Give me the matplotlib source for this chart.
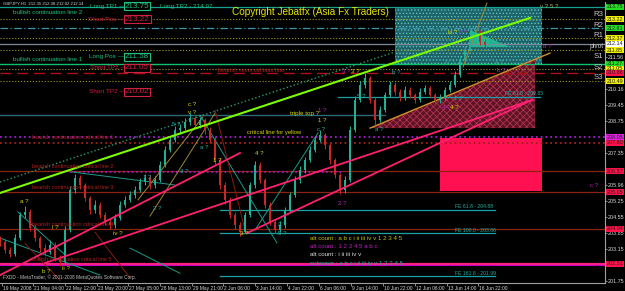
import matplotlib
matplotlib.use("Agg")
import matplotlib.pyplot as plt
from matplotlib.patches import Polygon, Rectangle

plt.rcParams['font.family'] = ['Liberation Sans', 'DejaVu Sans']
plt.rcParams['hatch.linewidth'] = 0.6

# ---------------- data (bar index ~ 1 px per H1 bar, price) ----------------
bar_x = [0, 5, 10, 15, 20, 25, 30, 35, 40, 45, 50, 55, 60, 65, 70, 75, 80, 85, 90, 95,
         100, 105, 110, 115, 120, 125, 130, 135, 140, 145, 150, 155, 160, 165, 170, 175, 180, 185, 190, 195,
         200, 205, 210, 215, 220, 225, 230, 235, 240, 245, 250, 255, 260, 265, 270, 275, 280, 285, 290, 295,
         300, 305, 310, 315, 320, 325, 330, 335, 340, 345, 350, 355, 360, 365, 370, 375, 380, 385, 390, 395,
         400, 405, 410, 415, 420, 425, 430, 435, 440, 445, 450, 455, 460, 465, 470, 475, 480, 485, 490]
closes = [203.47, 203.12, 202.94, 203.64, 204.65, 204.78, 204.08, 203.64, 203.21, 203.03,
          203.34, 202.77, 202.59, 203.99, 205.74, 206.27, 205.96, 205.39, 204.87, 205.09,
          204.65, 204.34, 204.21, 204.52, 205.09, 205.31, 205.52, 205.74, 206.09, 206.27,
          205.96, 206.18, 206.84, 207.49, 207.93, 208.37, 208.45, 208.72, 208.89, 208.59,
          208.80, 208.37, 207.93, 207.05, 205.96, 205.31, 204.65, 204.21, 203.91, 204.65,
          205.96, 206.84, 206.18, 205.09, 204.34, 203.99, 204.21, 204.87, 205.52, 206.18,
          206.62, 207.05, 207.49, 207.93, 208.15, 207.71, 207.05, 206.40, 205.74, 206.18,
          208.37, 209.68, 210.33, 210.64, 209.68, 208.80, 209.24, 209.90, 210.33, 210.03,
          209.77, 210.12, 209.90, 209.68, 210.03, 210.20, 209.90, 209.68, 209.77, 210.12,
          210.33, 210.77, 211.43, 211.87, 212.30, 212.65, 212.22, 212.09, 212.14]
highs = [203.75, 203.58, 203.25, 203.80, 204.80, 205.05, 204.90, 204.20, 203.75, 203.40,
         203.55, 203.45, 202.90, 204.15, 205.90, 206.45, 206.40, 206.05, 205.50, 205.30,
         205.20, 204.80, 204.50, 204.70, 205.25, 205.50, 205.70, 205.90, 206.25, 206.45,
         206.40, 206.35, 207.00, 207.65, 208.10, 208.55, 208.65, 208.90, 209.10, 209.00,
         208.95, 208.90, 208.50, 208.05, 207.15, 206.10, 205.45, 204.80, 204.35, 204.80,
         206.10, 207.00, 206.95, 206.25, 205.20, 204.45, 204.40, 205.00, 205.65, 206.35,
         206.80, 207.20, 207.65, 208.10, 208.35, 208.25, 207.80, 207.15, 206.50, 206.35,
         208.55, 209.85, 210.50, 210.85, 210.75, 209.80, 209.40, 210.05, 210.50, 210.45,
         210.15, 210.30, 210.25, 210.00, 210.20, 210.35, 210.30, 210.00, 209.95, 210.25,
         210.50, 210.95, 211.60, 212.05, 212.55, 212.95, 212.75, 212.35, 212.38]
lows = [203.30, 202.98, 202.80, 202.85, 203.55, 204.50, 203.95, 203.50, 203.05, 202.85,
        202.95, 202.62, 202.40, 202.50, 203.90, 205.60, 205.80, 205.25, 204.70, 204.75,
        204.50, 204.20, 204.05, 204.10, 204.45, 205.00, 205.20, 205.40, 205.65, 205.95,
        205.80, 205.85, 206.10, 206.75, 207.40, 207.85, 208.20, 208.35, 208.60, 208.45,
        208.45, 208.20, 207.80, 206.90, 205.80, 205.15, 204.50, 204.05, 203.75, 203.85,
        204.55, 205.85, 206.05, 204.95, 204.20, 203.85, 203.90, 204.10, 204.80, 205.45,
        206.05, 206.50, 206.95, 207.40, 207.85, 207.55, 206.90, 206.25, 205.55, 205.60,
        206.10, 208.30, 209.60, 210.20, 209.55, 208.60, 208.70, 209.15, 209.80, 209.90,
        209.65, 209.70, 209.75, 209.55, 209.60, 209.95, 209.80, 209.50, 209.55, 209.70,
        210.05, 210.25, 210.70, 211.35, 211.80, 212.20, 212.10, 211.95, 212.02]
first_open = 203.60

# horizontal levels
level_prices = [213.75, 213.22, 212.81, 212.37, 212.14, 211.85, 211.27, 211.05, 210.86,
                210.49, 208.05, 207.80, 206.57, 205.65, 204.04, 202.51]
level_colors = ['#14a08c', '#a09a20', '#3a96a8', '#a09a20', '#7a8a9a', '#a09a20', '#10c070',
                '#a09a20', '#b01010', '#a09a20', '#a020d0', '#a02020', '#8a2410', '#8a2410',
                '#8a2410', '#ff2080']
level_styles = ['-', ':', (0, (6, 2, 1, 2)), ':', '-', ':', '-', ':', (0, (8, 4)), ':',
                ':', ':', '-', '-', '-', '-']
level_widths = [0.9, 0.8, 0.9, 0.8, 0.9, 0.8, 1.0, 0.8, 1.0, 0.8, 1.3, 1.3, 0.9, 0.9, 0.9, 1.6]

# right-axis price boxes
box_prices = [213.75, 213.22, 212.81, 212.37, 212.14, 211.85, 211.27, 211.05, 210.86, 210.49,
              208.05, 207.80, 206.57, 205.65, 204.04, 202.51]
box_colors = ['#22e022', '#f0f000', '#22e022', '#f0f000', '#ffffff', '#f0f000', '#22e022',
              '#f0f000', '#ff1048', '#f0f000', '#e020e0', '#ff1048', '#ff1048', '#ff1048',
              '#ff1048', '#ff1048']

tick_values = [201.75, 202.45, 203.15, 203.85, 204.55, 205.25, 205.96, 206.65, 207.35,
               208.05, 208.75, 209.45, 210.16, 210.86, 211.56, 212.26, 212.96, 213.66]

time_ticks = [2, 33, 65, 97, 128, 160, 192, 223, 255, 287, 319, 351, 383, 415, 447, 478]
time_labels = ["19 May 2008", "21 May 04:00", "22 May 12:00", "23 May 20:00", "27 May 05:00",
               "28 May 13:00", "29 May 21:00", "2 Jun 06:00", "3 Jun 14:00", "4 Jun 22:00",
               "6 Jun 06:00", "9 Jun 14:00", "10 Jun 22:00", "12 Jun 06:00", "13 Jun 14:00",
               "16 Jun 22:00"]

# Fibonacci expansion levels
fe_prices = [209.83, 204.88, 203.86, 201.99]
fe_start = [338, 220, 220, 220]
fe_end = [540, 495, 495, 495]
fe_labels = ["FE 61.8 - 209.83", "FE 61.8 - 204.88", "FE 100.0 - 203.86", "FE 161.8 - 201.99"]

# trend lines: (x0, p0, x1, p1)
lime_line = (0, 205.61, 530, 213.27)
dotted_line = (0, 206.09, 395, 211.78)
pink_lines = [(0, 202.02, 240, 207.36), (45, 202.55, 532, 209.68), (247, 203.86, 532, 209.68)]
teal_lines = [(0, 203.64, 100, 202.02), (18, 204.78, 65, 202.90), (72, 206.53, 175, 205.96),
              (200, 209.02, 277, 203.42), (255, 203.99, 318, 208.24), (130, 203.20, 180, 202.10)]
olive_lines = [(138, 205.31, 203, 208.94), (150, 204.60, 215, 209.10), (463, 211.12, 487, 213.92)]
darkred_lines = [(215, 209.24, 245, 204.00), (95, 203.90, 130, 201.90), (25, 203.40, 60, 201.80)]
orange_line = (370, 208.45, 550, 211.73)

# ---------------- figure ----------------
fig = plt.figure(figsize=(6.25, 2.91), dpi=100, facecolor='black')
ax = fig.add_axes([0, 8 / 291, 605 / 625, 281 / 291], facecolor='black')
ax.set_xlim(0, 605)
ax.set_ylim(201.674, 213.965)

# zones
ax.add_patch(Rectangle((395, 211.21), 147, 213.70 - 211.21, facecolor='#1d6266',
                       edgecolor='#5cc4c4', hatch='.....', linewidth=0, zorder=1))
ax.add_patch(Polygon([(370, 208.45), (535, 211.43), (535, 208.45)], closed=True,
                     facecolor='#5a1424', edgecolor='#b03050', hatch='xxxxx', linewidth=0, zorder=1))
ax.add_patch(Rectangle((440, 205.70), 102, 208.02 - 205.70, facecolor='#ff1050',
                       edgecolor='#ff1050', linewidth=0, zorder=1))
ax.add_patch(Polygon([(470, 212.74), (510, 212.00), (470, 212.00)], closed=True,
                     facecolor='#20b890', edgecolor='#20b890', linewidth=0, zorder=2))

# horizontal levels
for p, c, s, w in zip(level_prices, level_colors, level_styles, level_widths):
    ax.plot([0, 605], [p, p], color=c, linestyle=s, linewidth=w, zorder=2)
ax.plot([0, 385], [209.02, 209.02], color='#2f6878', linewidth=1.0, zorder=2)
ax.plot([70, 343], [206.53, 206.53], color='#a020d0', linestyle=':', linewidth=1.2, zorder=2)
ax.plot([0, 605], [202.45, 202.45], color='#c000c0', linewidth=0.8, zorder=2)
for p, a, b in zip(fe_prices, fe_start, fe_end):
    ax.plot([a, b], [p, p], color='#1aa0a0', linewidth=0.9, zorder=2)

# trend lines
ax.plot(lime_line[::2], lime_line[1::2], color='#7cfc00', linewidth=1.5, zorder=4)
ax.plot(dotted_line[::2], dotted_line[1::2], color='#2a9a6a', linestyle=':', linewidth=1.0, zorder=2)
for ln in pink_lines:
    ax.plot(ln[::2], ln[1::2], color='#ff2070', linewidth=1.3, zorder=4)
for ln in teal_lines:
    ax.plot(ln[::2], ln[1::2], color='#1a9a8a', linewidth=0.7, zorder=2)
for ln in olive_lines:
    ax.plot(ln[::2], ln[1::2], color='#9a8a30', linewidth=0.7, zorder=2)
for ln in darkred_lines:
    ax.plot(ln[::2], ln[1::2], color='#8a1a10', linewidth=0.7, zorder=2)
ax.plot(orange_line[::2], orange_line[1::2], color='#d09030', linewidth=1.0, zorder=3)

# candles
opens = [first_open] + closes[:-1]
for x, o, h, l, c in zip(bar_x, opens, highs, lows, closes):
    col = '#20b098' if c >= o else '#c82828'
    ax.vlines(x, l, h, color=col, linewidth=0.7, zorder=3)
    ax.bar(x, max(abs(c - o), 0.03), bottom=min(o, c), width=2.6, color=col, linewidth=0, zorder=3)

# ---------------- texts ----------------
GREEN = '#20c080'
RED = '#d02040'
YEL = '#d8d800'
TEAL = '#20b0a0'
MAG = '#c020c0'
DRED = '#b02020'
WS = 4.4  # wave-label size

def t(x, y, s, c, fs=WS, **kw):
    ax.text(x, y, s, color=c, fontsize=fs, ha=kw.pop('ha', 'left'), va=kw.pop('va', 'center'),
            zorder=6, **kw)

t(3, 213.88, "GBPJPY,H1  212.35 212.38 212.02 212.14", '#d8d8d8', 3.1)
t(13, 213.50, "bullish continuation line 2", GREEN, 4.5)
t(13, 211.47, "bullish continuation line 1", GREEN, 4.5)
t(90, 213.79, "Long TP1 \u2014", GREEN, 4.6)
t(160, 213.79, "Long TP2 - 214.97", GREEN, 4.6)
t(88, 213.22, "Short Pos \u2014", RED, 4.6)
t(89, 211.56, "Long Pos \u2014", GREEN, 4.6)
t(90, 211.08, "Short TP1 \u2014", RED, 4.6)
t(89, 210.03, "Short TP2 \u2014", RED, 4.6)
for yv, s, c in [(213.79, "213.75", GREEN), (213.22, "213.22", RED), (211.56, "211.58", GREEN),
                 (211.08, "211.05", RED), (210.03, "210.02", RED)]:
    t(125, yv, s, c, 5.8, bbox=dict(facecolor='black', edgecolor=c, linewidth=0.8, pad=0.6))

t(310, 213.53, "Copyright Jebatfx (Asia Fx Traders)", '#e6e600', 7.2, ha='center')
t(218, 210.99, "bearish reversal bias line", DRED, 4.3)
t(342, 210.92, "3 ?", MAG)
t(351, 210.92, "3 ?", YEL)
t(392, 210.90, "b ?", TEAL)
t(448, 212.61, "iii ?", YEL)
t(459, 212.61, "5 ?", MAG)
t(540, 213.75, "v ? 5 ?", '#b0b060')
t(543, 212.00, "b ?", MAG)
t(445, 211.34, "iv ?", TEAL)
t(495, 211.34, "a ?", TEAL)
t(497, 210.99, "b ?", MAG)
for s, yv in [("R3", 213.40), ("R2", 212.92), ("R1", 212.52), ("S1", 211.56), ("S2", 211.08), ("S3", 210.68)]:
    t(603.5, yv, s, '#c8c8c8', 5.6, ha='right')
t(603.5, 212.00, "pivot", '#c8c8c8', 4.8, ha='right')

for p, a, lab in zip(fe_prices, fe_start, fe_labels):
    xpos = 505 if p > 209 else 455
    t(xpos, p + 0.12, lab, TEAL, 3.7)

t(375, 208.40, "a ?", TEAL)
t(442, 209.37, "4 ?", MAG)
t(450, 209.37, "4 ?", YEL)
t(454, 209.75, "1 ?", TEAL)
t(357, 209.85, "5 ?", TEAL)
t(188, 209.50, "c ?", YEL)
t(188, 209.15, "v ?", YEL)
t(172, 208.59, "5 ?", TEAL)
t(200, 207.58, "a ?", TEAL)
t(290, 209.07, "triple top ?", YEL, 4.5)
t(318, 209.24, "1 ?", MAG)
t(318, 208.80, "1 ?", YEL)
t(317, 208.37, "c ?", TEAL)
t(247, 208.24, "critical line for yellow", YEL, 4.2)
t(32, 208.02, "bearish continuation critical line 1", DRED, 4.0)
t(32, 206.75, "bearish continuation critical line 2", DRED, 4.0)
t(32, 205.87, "bearish continuation critical line 3", DRED, 4.0)
t(32, 204.25, "bearish continuation critical line 4", DRED, 4.0)
t(30, 202.72, "bearish continuation critical line 5", DRED, 4.0)
t(213, 207.05, "1 ?", YEL)
t(255, 207.36, "4 ?", YEL)
t(143, 206.31, "1 2", TEAL)
t(180, 206.57, "4 ?", TEAL)
t(153, 204.95, "2 ?", TEAL)
t(338, 205.17, "2 ?", MAG)
t(278, 204.25, "2 ?", TEAL)
t(278, 203.86, "5 ?", TEAL)
t(240, 203.86, "3 ?", YEL)
t(20, 205.22, "a ?", YEL)
t(42, 202.16, "b ?", YEL)
t(52, 204.08, "i ?", YEL)
t(62, 202.33, "ii ?", YEL)
t(113, 203.82, "iv ?", YEL)
t(590, 205.92, "c ?", MAG)

t(310, 203.64, "alt count : a b c i ii iii iv v 1 2 3 4 5", '#c8c800', 4.4)
t(310, 203.29, "alt count : 1 2 3 4 5 a b c", MAG, 4.4)
t(310, 202.94, "alt count : i ii iii iv v", '#e0e0e0', 4.4)
t(310, 202.51, "subwave : a b c i ii iii iv v 1 2 3 4 5", TEAL, 4.4)
t(3, 201.94, "FXDD - MetaTrader, \u00a9 2001-2008 MetaQuotes Software Corp.", '#c0c0c0', 3.4)

# ---------------- axes ----------------
for sp in ['top', 'left']:
    ax.spines[sp].set_visible(False)
for sp in ['right', 'bottom']:
    ax.spines[sp].set_color('#a0a0a0')
    ax.spines[sp].set_linewidth(0.8)

ax.yaxis.tick_right()
ax.set_yticks(tick_values)
# tick labels that sit under a coloured price box are hidden, as in the terminal
tick_texts = []
for v in tick_values:
    hidden = any(abs(v - b) < 0.16 for b in box_prices)
    tick_texts.append("" if hidden else f"{v:.2f}")
ax.set_yticklabels(tick_texts)
ax.tick_params(axis='y', colors='#a0a0a0', labelcolor='#d8d8d8', labelsize=3.9,
               length=1.5, width=0.6, pad=0.8)
ax.set_xticks(time_ticks)
ax.set_xticklabels([])
ax.tick_params(axis='x', colors='#a0a0a0', length=2, width=0.6)
for x, lab in zip(time_ticks, time_labels):
    ax.text(x + 1, -0.012, lab, transform=ax.get_xaxis_transform(), color='#d8d8d8',
            fontsize=3.5, ha='left', va='top', clip_on=False)

for p, c in zip(box_prices, box_colors):
    ax.text(607, p, f"{p:.2f}", color='#202020', fontsize=3.9, ha='left', va='center',
            clip_on=False, zorder=7,
            bbox=dict(facecolor=c, edgecolor=c, pad=0.4, linewidth=0))

fig.savefig('out.png', dpi=100, facecolor='black')
